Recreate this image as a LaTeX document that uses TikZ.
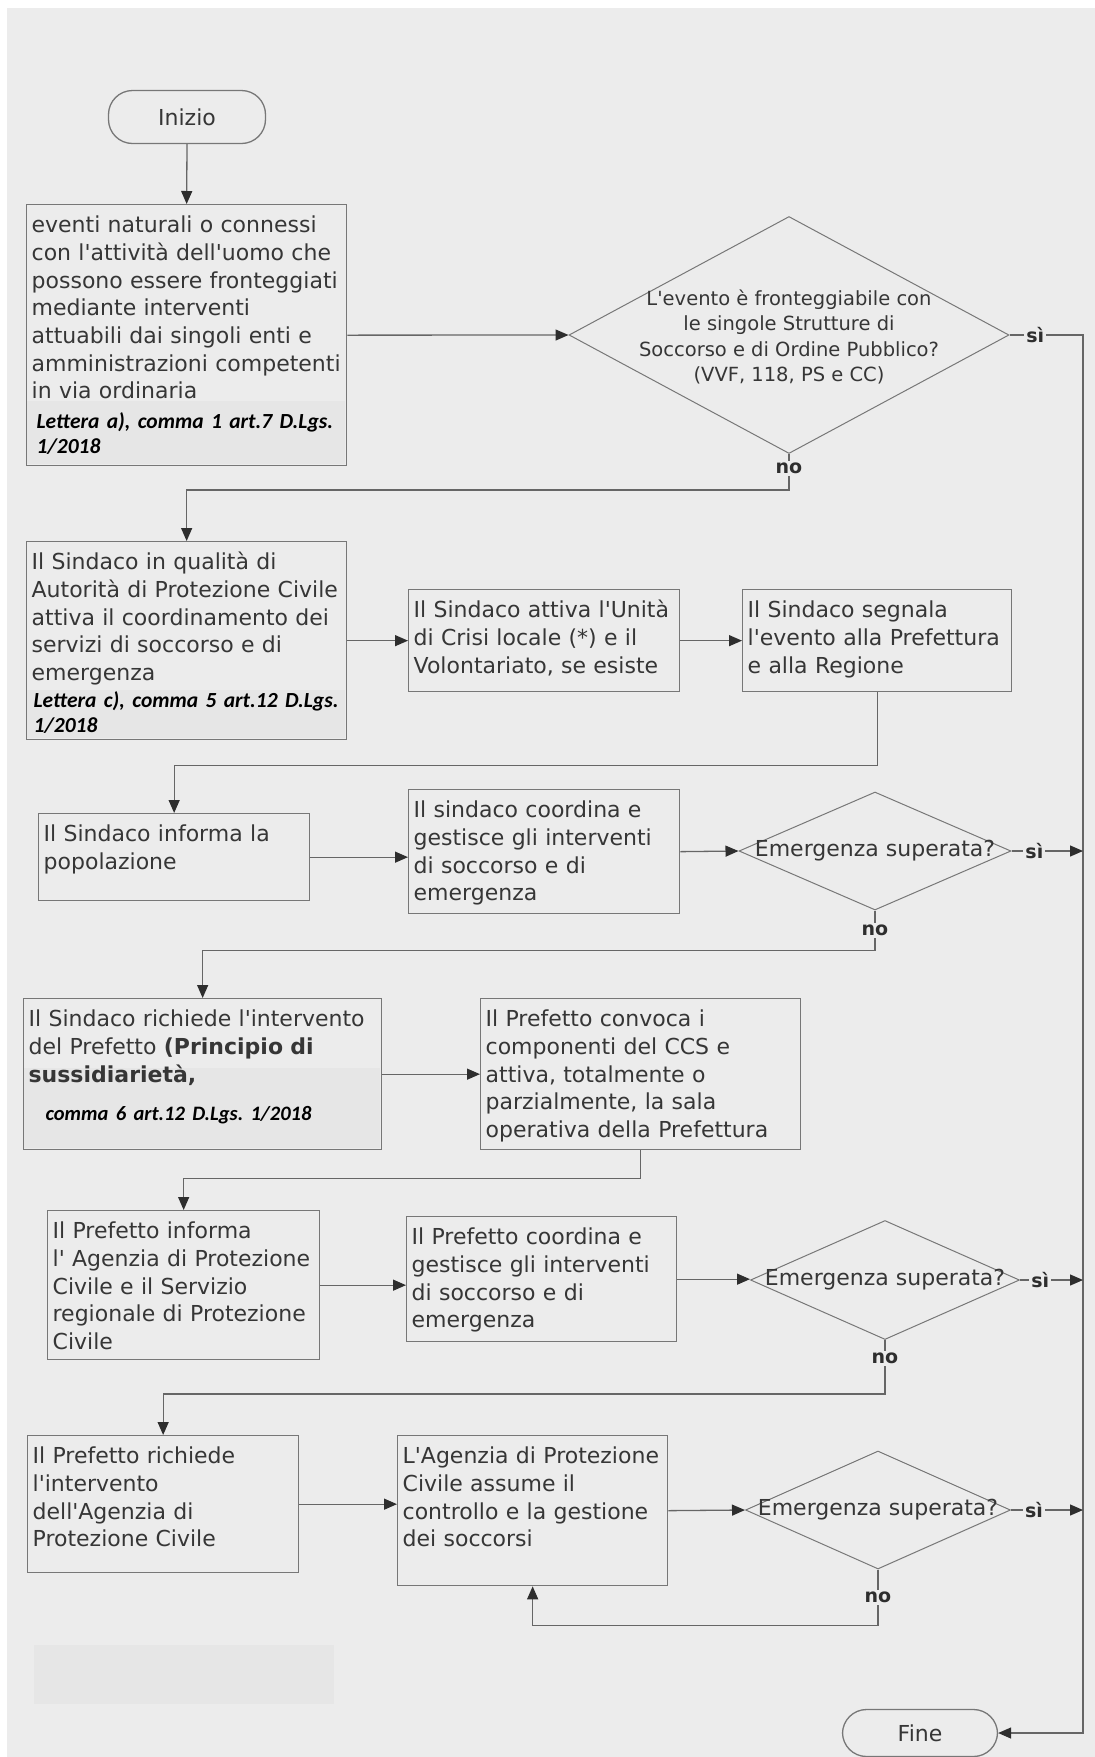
\documentclass[tikz,border=0pt]{standalone}
\usepackage{fontspec}
\setmainfont{DejaVu Sans}[Ligatures=TeXOff]
\newfontfamily\lett{Carlito}
\usetikzlibrary{shapes.geometric,arrows.meta}

\definecolor{sfondo}{HTML}{ECECEC}
\definecolor{toppa}{HTML}{E6E6E6}
\definecolor{bordo}{HTML}{777777}
\definecolor{linea}{HTML}{666666}
\definecolor{punta}{HTML}{2E2E2E}
\definecolor{testo}{HTML}{363636}

\tikzset{
	box/.style={draw=bordo, line width=1.3pt, anchor=north west, align=left, inner xsep=5pt, inner ysep=0pt, text height=28pt, text=testo, font=\frenchspacing\fontsize{22}{27.7}\selectfont},
	term/.style={draw=bordo, line width=1.3pt, rounded corners=24pt, text=testo, font=\fontsize{22}{27.7}\selectfont},
	dec/.style={diamond, draw=bordo, line width=1pt, inner sep=0pt, text=testo, font=\fontsize{22}{27.7}\selectfont},
	flow/.style={draw=linea, line width=1.3pt, -{Triangle[length=13pt,width=11pt,color=punta]}},
	lbl/.style={fill=sfondo, inner sep=2pt, text=punta, font=\bfseries\fontsize{19}{19}\selectfont}
}

\begin{document}
\begin{tikzpicture}[x=1pt,y=-1pt]

	\useasboundingbox (0,0) rectangle (1095,1757);
	\fill[white] (0,0) rectangle (1095,1757);
	\fill[sfondo] (7,8) rectangle (1095,1757);
	\fill[toppa] (27,401) rectangle (345,464);
	\fill[toppa] (27,690) rectangle (345,738);
	\fill[toppa] (24,1068) rectangle (380,1148);
	\fill[toppa] (34,1645) rectangle (334,1704);

	\node[term, minimum width=157pt, minimum height=53pt] (inizio) at (187,117) {Inizio};

	\node[box, text width=310pt, text depth=233pt] (b1) at (26,204) {eventi naturali o connessi\\
		con l'attività dell'uomo che\\
		possono essere fronteggiati\\
		mediante interventi\\
		attuabili dai singoli enti e\\
		amministrazioni competenti\\
		in via ordinaria\par\vspace{5pt}
		{\lett\bfseries\itshape\color{black}\fontsize{21.5}{25}\selectfont\hspace*{5pt}\mbox{Lettera a), comma 1 art.7 D.Lgs.}\\\hspace*{5pt}1/2018\par}};

	\node[dec, minimum width=440pt, minimum height=237pt] (d1) at (789,335) {\makebox[0pt]{\fontsize{19.5}{25.5}\selectfont\begin{tabular}{@{}c@{}}\\[-19pt]L'evento è fronteggiabile con\\
		le singole Strutture di\\
		Soccorso e di Ordine Pubblico?\\
		(VVF, 118, PS e CC)\end{tabular}}};

	\node[box, text width=310pt, text depth=170pt] (b2) at (26,541) {Il Sindaco in qualità di\\
		Autorità di Protezione Civile\\
		attiva il coordinamento dei\\
		servizi di soccorso e di\\
		emergenza\par\vspace{2pt}
		{\lett\bfseries\itshape\color{black}\fontsize{21.5}{25}\selectfont\hspace*{2pt}\mbox{Lettera c), comma 5 art.12 D.Lgs.}\\\hspace*{2pt}1/2018\par}};
	\node[box, text width=261pt, text depth=74pt] (b3) at (408,589) {Il Sindaco attiva l'Unità\\
		di Crisi locale (*) e il\\
		Volontariato, se esiste};
	\node[box, text width=259pt, text depth=74pt] (b4) at (742,589) {Il Sindaco segnala\\
		l'evento alla Prefettura\\
		e alla Regione};

	\node[box, text width=261pt, text depth=59pt] (b5) at (38,813) {Il Sindaco informa la\\
		popolazione};
	\node[box, text width=261pt, text depth=96pt] (b6) at (408,789) {Il sindaco coordina e\\
		gestisce gli interventi\\
		di soccorso e di\\
		emergenza};
	\node[dec, minimum width=272pt, minimum height=118pt] (d2) at (875,851) {\makebox[0pt]{Emergenza superata?}};

	\node[box, text width=348pt, text depth=123pt] (b7) at (23,998) {Il Sindaco richiede l'intervento\\
		del Prefetto \textbf{(Principio di}\\
		\textbf{sussidiarietà,}\par\vspace{13pt}
		{\lett\bfseries\itshape\color{black}\fontsize{20.5}{25}\selectfont\hspace*{17pt}comma 6 art.12 D.Lgs. 1/2018\par}};
	\node[box, text width=310pt, text depth=123pt] (b8) at (480,998) {Il Prefetto convoca i\\
		componenti del CCS e\\
		attiva, totalmente o\\
		parzialmente, la sala\\
		operativa della Prefettura};

	\node[box, text width=262pt, text depth=121pt] (b9) at (47,1210) {Il Prefetto informa\\
		l' Agenzia di Protezione\\
		Civile e il Servizio\\
		regionale di Protezione\\
		Civile};
	\node[box, text width=260pt, text depth=97pt] (b10) at (406,1216) {Il Prefetto coordina e\\
		gestisce gli interventi\\
		di soccorso e di\\
		emergenza};
	\node[dec, minimum width=269pt, minimum height=119pt] (d3) at (885,1280) {\makebox[0pt]{Emergenza superata?}};

	\node[box, text width=261pt, text depth=109pt] (b11) at (27,1435) {Il Prefetto richiede\\
		l'intervento\\
		dell'Agenzia di\\
		Protezione Civile};
	\node[box, text width=260pt, text depth=122pt] (b12) at (397,1435) {L'Agenzia di Protezione\\
		Civile assume il\\
		controllo e la gestione\\
		dei soccorsi};
	\node[dec, minimum width=265pt, minimum height=118pt] (d4) at (878,1510) {\makebox[0pt]{Emergenza superata?}};

	\node[term, minimum width=155pt, minimum height=47pt] (fine) at (920,1733) {Fine};

	\coordinate (rtop) at (1083,335);
	\coordinate (rbot) at (1083,1733);

	\draw[flow] (inizio.south) -- (b1.north);
	\draw[flow] (b1.east) -- (d1.west);
	\draw[flow] (d1.east) -- node[lbl, pos=0.35] {sì} (rtop) -- (rbot) -- (fine.east);
	\draw[flow] (d1.south) -- node[lbl, pos=0.4] {no} ++(0,36) -| (b2.north);
	\draw[flow] (b2.east) -- (b3.west);
	\draw[flow] (b3.east) -- (b4.west);
	\draw[flow] (b4.south) -- ++(0,73) -| (b5.north);
	\draw[flow] (b5.east) -- (b5.east -| b6.west);
	\draw[flow] (b6.east) -- (d2.west);
	\draw[flow] (d2.east) -- node[lbl, pos=0.32] {sì} (d2.east -| rtop);
	\draw[flow] (d2.south) -- node[lbl, pos=0.5] {no} ++(0,40) -| (b7.north);
	\draw[flow] (b7.east) -- (b8.west);
	\draw[flow] (b8.south) -- ++(0,28) -| (b9.north);
	\draw[flow] (b9.east) -- (b9.east -| b10.west);
	\draw[flow] (b10.east) -- (b10.east -| d3.west);
	\draw[flow] (d3.east) -- node[lbl, pos=0.32] {sì} (d3.east -| rtop);
	\draw[flow] (d3.south) -- node[lbl, pos=0.34] {no} ++(0,54) -| (b11.north);
	\draw[flow] (b11.east) -- (b11.east -| b12.west);
	\draw[flow] (b12.east) -- (d4.west);
	\draw[flow] (d4.east) -- node[lbl, pos=0.32] {sì} (d4.east -| rtop);
	\draw[flow] (d4.south) -- node[lbl, pos=0.5] {no} ++(0,56) -| (b12.south);

\end{tikzpicture}
\end{document}
